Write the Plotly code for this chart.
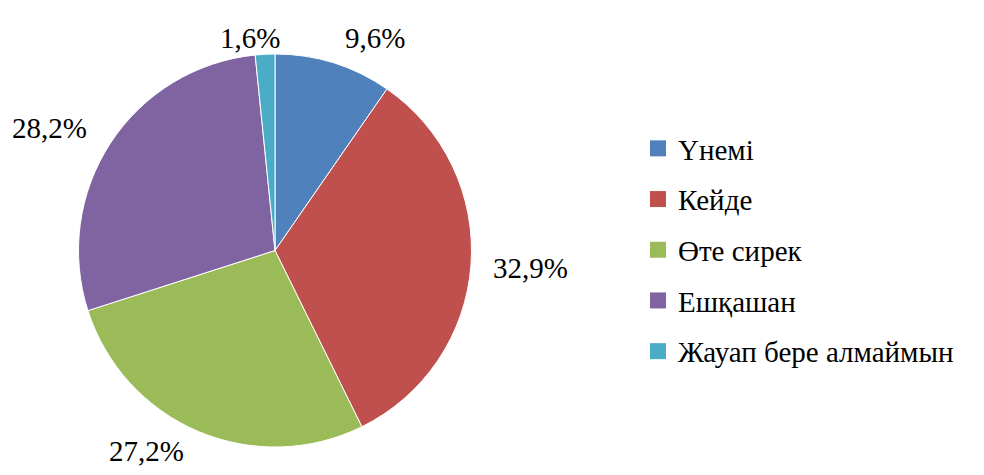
import plotly.graph_objects as go

categories = ["Үнемі", "Кейде", "Өте сирек", "Ешқашан", "Жауап бере алмаймын"]
values = [9.6, 32.9, 27.2, 28.2, 1.6]
colors = ["#4F81BD", "#C0504D", "#9BBB59", "#8064A2", "#4BACC6"]
label_texts = ["9,6%", "32,9%", "27,2%", "28,2%", "1,6%"]
# label centre positions (screen pixels in the 984x475 window)
label_px = [(375, 38), (530, 268), (146, 451), (49, 128), (250, 38)]

# page body has an 8px margin; size the figure so it fits the window
OFF = 8
FW, FH = 968, 459


def px_x(sx):
    return (sx - OFF) / FW


def px_y(sy):
    return 1 - (sy - OFF) / FH


font_family = "Liberation Serif"

fig = go.Figure(go.Pie(
    labels=categories,
    values=values,
    sort=False,
    direction="clockwise",
    rotation=0,
    marker=dict(colors=colors, line=dict(color="white", width=1)),
    textinfo="none",
    hoverinfo="label+percent",
    showlegend=False,
    domain=dict(x=[px_x(78), px_x(472)], y=[px_y(447), px_y(54)]),
))

# legend entries (square swatches)
for i, (c, col) in enumerate(zip(categories, colors)):
    fig.add_trace(go.Scatter(
        x=[None], y=[None], mode="markers", name=c,
        marker=dict(symbol="square", size=16, color=col),
        legendgroup=f"g{i}", showlegend=True, hoverinfo="skip",
    ))

for t, (sx, sy) in zip(label_texts, label_px):
    fig.add_annotation(x=px_x(sx), y=px_y(sy), xref="paper", yref="paper",
                       text=t, showarrow=False, xanchor="center", yanchor="middle",
                       font=dict(family=font_family, size=29))

fig.update_layout(
    width=FW, height=FH,
    margin=dict(l=0, r=0, t=0, b=0),
    paper_bgcolor="white",
    plot_bgcolor="white",
    font=dict(family=font_family, color="black"),
    xaxis=dict(visible=False),
    yaxis=dict(visible=False),
    legend=dict(x=px_x(638), y=px_y(250), xanchor="left", yanchor="middle",
                font=dict(family=font_family, size=29),
                itemwidth=30, tracegroupgap=10, bgcolor="rgba(0,0,0,0)"),
)

fig.write_html("out.html", config={"displayModeBar": False})
